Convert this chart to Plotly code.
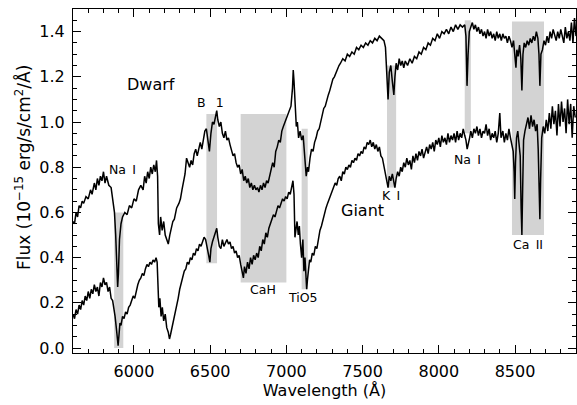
import plotly.graph_objects as go

dwarf_wl = [5600,5610,5620,5630,5640,5650,5660,5670,5685,5700,5715,5725,5740,5750,5760,5770,5780,5790,5800,5810,5820,5835,5850,5862,5872,5880,5888,5893,5898,5905,5915,5925,5940,5955,5970,5985,6000,6015,6030,6045,6060,6070,6080,6090,6100,6110,6120,6130,6140,6148,6155,6160,6168,6175,6185,6195,6205,6215,6225,6235,6245,6255,6265,6280,6295,6305,6315,6325,6335,6345,6355,6365,6375,6385,6395,6405,6415,6425,6435,6445,6455,6465,6475,6485,6495,6505,6515,6525,6535,6543,6550,6560,6570,6580,6590,6600,6610,6620,6630,6640,6650,6660,6670,6680,6690,6700,6710,6720,6730,6740,6750,6760,6770,6780,6790,6800,6810,6820,6830,6840,6850,6860,6870,6880,6890,6900,6910,6920,6930,6940,6950,6960,6970,6980,6990,7000,7010,7020,7030,7040,7045,7050,7058,7065,7072,7080,7090,7100,7110,7120,7130,7138,7145,7155,7165,7175,7185,7195,7205,7215,7225,7235,7245,7255,7265,7275,7285,7295,7305,7315,7325,7335,7345,7355,7370,7385,7400,7415,7430,7445,7460,7475,7490,7505,7520,7535,7550,7565,7580,7595,7610,7625,7640,7650,7660,7667,7675,7685,7695,7705,7712,7720,7730,7740,7750,7760,7770,7780,7795,7810,7825,7840,7855,7870,7885,7900,7915,7930,7945,7960,7975,7990,8005,8020,8035,8050,8065,8080,8095,8110,8125,8140,8155,8170,8178,8185,8192,8200,8210,8220,8230,8240,8250,8260,8270,8280,8290,8300,8310,8320,8330,8340,8350,8360,8370,8380,8390,8400,8410,8420,8430,8440,8450,8460,8470,8480,8490,8500,8506,8512,8520,8530,8538,8545,8552,8560,8570,8580,8590,8600,8610,8620,8630,8640,8650,8657,8663,8670,8680,8690,8700,8710,8720,8730,8740,8750,8760,8770,8780,8790,8800,8810,8820,8830,8840,8850,8860,8870,8880,8890,8900]
dwarf_flux = [0.56,0.55,0.60,0.58,0.63,0.62,0.65,0.64,0.67,0.66,0.70,0.68,0.73,0.70,0.75,0.72,0.76,0.74,0.78,0.73,0.76,0.72,0.71,0.66,0.60,0.50,0.35,0.27,0.33,0.48,0.55,0.58,0.60,0.59,0.63,0.62,0.66,0.65,0.70,0.72,0.70,0.76,0.73,0.78,0.75,0.80,0.77,0.81,0.78,0.83,0.76,0.55,0.50,0.58,0.52,0.56,0.50,0.48,0.46,0.50,0.53,0.56,0.57,0.62,0.64,0.66,0.70,0.73,0.77,0.84,0.82,0.80,0.83,0.81,0.86,0.88,0.85,0.89,0.91,0.88,0.93,0.96,0.97,0.92,0.87,0.95,1.00,0.99,1.02,1.05,1.01,0.98,1.00,0.95,0.93,0.96,0.92,0.93,0.90,0.88,0.85,0.86,0.82,0.80,0.81,0.77,0.79,0.74,0.76,0.73,0.75,0.71,0.73,0.70,0.72,0.70,0.71,0.69,0.72,0.70,0.73,0.71,0.74,0.73,0.76,0.78,0.82,0.80,0.87,0.89,0.92,0.91,0.96,0.98,1.00,1.01,1.03,1.05,1.07,1.15,1.23,1.18,1.05,0.98,1.00,0.93,0.96,0.92,0.94,0.85,0.76,0.80,0.78,0.84,0.88,0.87,0.91,0.93,0.96,0.97,1.00,1.03,1.06,1.07,1.10,1.12,1.14,1.17,1.19,1.20,1.22,1.23,1.25,1.26,1.28,1.27,1.30,1.29,1.31,1.30,1.33,1.32,1.34,1.33,1.35,1.34,1.36,1.35,1.37,1.36,1.38,1.37,1.36,1.33,1.20,1.10,1.22,1.25,1.18,1.12,1.20,1.26,1.23,1.28,1.25,1.27,1.24,1.27,1.25,1.28,1.26,1.29,1.28,1.31,1.30,1.33,1.32,1.35,1.34,1.37,1.36,1.39,1.37,1.40,1.39,1.41,1.39,1.42,1.40,1.43,1.41,1.43,1.42,1.43,1.38,1.16,1.30,1.40,1.42,1.44,1.41,1.43,1.40,1.42,1.39,1.41,1.38,1.40,1.37,1.41,1.38,1.40,1.37,1.39,1.36,1.40,1.37,1.39,1.36,1.39,1.37,1.38,1.35,1.38,1.36,1.33,1.36,1.30,1.24,1.32,1.29,1.34,1.28,1.14,1.30,1.35,1.33,1.36,1.34,1.37,1.35,1.38,1.36,1.40,1.37,1.30,1.16,1.30,1.32,1.36,1.34,1.38,1.35,1.40,1.37,1.41,1.38,1.36,1.40,1.37,1.41,1.38,1.35,1.42,1.37,1.40,1.36,1.44,1.35,1.46,1.38]

giant_wl = [5600,5610,5620,5630,5640,5650,5660,5670,5680,5690,5700,5710,5720,5730,5740,5750,5760,5770,5780,5790,5800,5810,5820,5830,5840,5850,5860,5868,5876,5884,5890,5896,5902,5908,5915,5925,5935,5945,5955,5965,5975,5985,5995,6005,6015,6025,6035,6045,6055,6065,6075,6085,6095,6105,6115,6125,6135,6145,6152,6158,6163,6170,6178,6186,6195,6205,6215,6225,6233,6240,6250,6260,6270,6280,6290,6300,6310,6320,6330,6340,6350,6360,6370,6380,6390,6400,6410,6420,6430,6440,6450,6460,6470,6480,6490,6498,6505,6515,6525,6535,6543,6550,6560,6570,6580,6590,6600,6610,6620,6630,6640,6650,6660,6670,6680,6690,6700,6710,6718,6725,6735,6745,6755,6765,6775,6785,6795,6805,6815,6825,6835,6845,6855,6865,6875,6885,6895,6905,6915,6925,6935,6945,6955,6965,6975,6985,6995,7005,7015,7025,7035,7043,7050,7056,7062,7070,7078,7085,7092,7100,7108,7115,7122,7128,7133,7138,7145,7152,7160,7170,7180,7190,7200,7210,7220,7230,7240,7250,7260,7270,7280,7290,7300,7310,7320,7330,7340,7350,7360,7370,7380,7390,7400,7410,7420,7430,7440,7450,7460,7470,7480,7490,7500,7510,7520,7530,7540,7550,7560,7570,7580,7590,7600,7610,7620,7630,7640,7650,7660,7667,7675,7685,7695,7705,7712,7720,7730,7740,7750,7760,7770,7780,7790,7800,7810,7820,7830,7840,7850,7860,7870,7880,7890,7900,7910,7920,7930,7940,7950,7960,7970,7980,7990,8000,8010,8020,8030,8040,8050,8060,8070,8080,8090,8100,8110,8120,8130,8140,8150,8160,8170,8178,8186,8194,8202,8210,8220,8230,8240,8250,8260,8270,8280,8290,8300,8310,8320,8330,8340,8350,8360,8370,8380,8390,8400,8408,8420,8430,8440,8450,8460,8470,8480,8488,8494,8498,8503,8510,8518,8526,8534,8540,8545,8550,8556,8565,8575,8585,8595,8605,8615,8625,8635,8645,8652,8658,8663,8668,8675,8685,8695,8705,8715,8725,8735,8745,8755,8765,8775,8785,8795,8805,8815,8825,8835,8845,8855,8865,8875,8885,8895]
giant_flux = [0.15,0.13,0.17,0.15,0.19,0.17,0.21,0.19,0.23,0.21,0.25,0.22,0.26,0.24,0.28,0.25,0.27,0.23,0.29,0.27,0.31,0.28,0.29,0.25,0.27,0.22,0.21,0.18,0.14,0.09,0.03,0.01,0.06,0.11,0.10,0.14,0.13,0.16,0.15,0.18,0.19,0.21,0.23,0.22,0.26,0.28,0.30,0.31,0.33,0.32,0.35,0.37,0.36,0.38,0.37,0.39,0.38,0.40,0.38,0.28,0.18,0.22,0.14,0.18,0.12,0.15,0.09,0.07,0.04,0.06,0.09,0.13,0.15,0.19,0.22,0.26,0.29,0.31,0.34,0.35,0.38,0.37,0.40,0.39,0.42,0.41,0.44,0.43,0.46,0.45,0.47,0.49,0.48,0.45,0.41,0.38,0.44,0.47,0.49,0.51,0.53,0.49,0.45,0.44,0.48,0.45,0.47,0.48,0.46,0.47,0.44,0.45,0.42,0.43,0.40,0.41,0.37,0.34,0.31,0.36,0.33,0.38,0.35,0.40,0.37,0.41,0.39,0.42,0.40,0.45,0.43,0.48,0.46,0.51,0.49,0.53,0.55,0.57,0.59,0.58,0.61,0.63,0.62,0.64,0.66,0.65,0.67,0.66,0.69,0.68,0.72,0.74,0.68,0.49,0.52,0.56,0.50,0.54,0.46,0.40,0.48,0.34,0.40,0.30,0.26,0.30,0.36,0.39,0.38,0.42,0.41,0.45,0.44,0.49,0.52,0.54,0.57,0.60,0.62,0.64,0.66,0.68,0.70,0.71,0.73,0.72,0.75,0.76,0.74,0.78,0.77,0.80,0.79,0.81,0.80,0.83,0.82,0.84,0.83,0.86,0.85,0.87,0.86,0.89,0.88,0.91,0.90,0.92,0.89,0.91,0.88,0.90,0.87,0.89,0.85,0.84,0.80,0.77,0.73,0.71,0.76,0.74,0.77,0.73,0.71,0.75,0.78,0.76,0.80,0.78,0.82,0.80,0.84,0.81,0.83,0.79,0.85,0.82,0.86,0.83,0.87,0.85,0.88,0.84,0.87,0.89,0.86,0.90,0.88,0.91,0.87,0.92,0.90,0.93,0.89,0.94,0.91,0.93,0.90,0.95,0.91,0.94,0.92,0.95,0.91,0.96,0.92,0.95,0.93,0.97,0.94,0.92,0.88,0.90,0.93,0.96,0.93,0.97,0.95,0.98,0.94,0.97,0.93,0.96,0.95,0.99,0.94,0.97,0.92,0.95,0.93,0.96,0.91,0.95,1.04,0.93,0.96,0.91,0.95,0.92,0.97,0.93,0.90,0.87,0.78,0.66,0.82,0.93,0.96,0.91,0.85,0.62,0.50,0.70,0.92,0.96,0.99,1.02,0.97,1.03,0.98,1.01,0.96,0.99,0.88,0.70,0.57,0.75,0.93,0.98,0.95,1.01,0.96,1.04,0.97,1.07,0.99,1.05,0.94,1.08,0.98,1.09,1.00,1.06,0.95,1.10,0.99,1.08,0.93,1.07,1.02]

# shaded feature windows (wavelength start/end, flux bottom/top)
band_wl0 = [5870, 6475, 6700, 7100, 7660, 8170, 8480]
band_wl1 = [5930, 6545, 7000, 7140, 7720, 8210, 8690]
band_f0 = [0.0, 0.375, 0.29, 0.26, 0.71, 0.95, 0.50]
band_f1 = [0.60, 1.035, 1.035, 0.97, 1.25, 1.45, 1.445]

label_text = ["Na\u2002I", "B\u2002 1", "CaH", "TiO5", "K\u2002I", "Na\u2002I", "Ca\u2002II"]
label_wl = [5925, 6499, 6848, 7111, 7684, 8188, 8582]
label_f = [0.79, 1.088, 0.261, 0.222, 0.677, 0.832, 0.459]

name_text = ["Dwarf", "Giant"]
name_wl = [6112, 7500]
name_f = [1.168, 0.61]

x_ticks = [6000, 6500, 7000, 7500, 8000, 8500]
y_ticks = [0.0, 0.2, 0.4, 0.6, 0.8, 1.0, 1.2, 1.4]

FONT = "DejaVu Sans"

fig = go.Figure()
for a, b, c, d in zip(band_wl0, band_wl1, band_f0, band_f1):
    fig.add_shape(type="rect", x0=a, x1=b, y0=c, y1=d, xref="x", yref="y",
                  fillcolor="#d3d3d3", line=dict(width=0), layer="below")

fig.add_trace(go.Scatter(x=dwarf_wl, y=dwarf_flux, mode="lines",
                         line=dict(color="black", width=1.5), showlegend=False))
fig.add_trace(go.Scatter(x=giant_wl, y=giant_flux, mode="lines",
                         line=dict(color="black", width=1.5), showlegend=False))

for t, x, y in zip(label_text, label_wl, label_f):
    fig.add_annotation(x=x, y=y, text=t, showarrow=False, xref="x", yref="y",
                       font=dict(family=FONT, size=12.5, color="black"))
for t, x, y in zip(name_text, name_wl, name_f):
    fig.add_annotation(x=x, y=y, text=t, showarrow=False, xref="x", yref="y",
                       font=dict(family=FONT, size=16, color="black"))

# y-axis title as rotated annotation
fig.add_annotation(text="Flux (10<sup>−15</sup> erg/s/cm<sup>2</sup>/Å)", textangle=-90,
                   xref="paper", yref="paper", x=-0.0994, y=0.538, showarrow=False,
                   xanchor="center", yanchor="middle",
                   font=dict(family=FONT, size=17, color="black"))

axis_common = dict(showgrid=False, zeroline=False, showline=True, linecolor="black",
                   linewidth=1, mirror="ticks", ticks="inside", tickcolor="black",
                   automargin=False, ticklabelstandoff=4,
                   tickfont=dict(family=FONT, size=16, color="black"))
fig.update_xaxes(range=[5600, 8900], tickvals=x_ticks, ticklen=8,
                 minor=dict(ticks="inside", dtick=100, ticklen=4, tickcolor="black"),
                 title=dict(text="Wavelength (Å)", font=dict(family=FONT, size=16, color="black"), standoff=2),
                 **axis_common)
fig.update_yaxes(range=[-0.022, 1.50], tickvals=y_ticks, tickformat=".1f", ticklen=8,
                 minor=dict(ticks="inside", dtick=0.05, tick0=0, ticklen=4, tickcolor="black"),
                 **axis_common)
fig.update_layout(width=577, height=405, margin=dict(l=73, r=1, t=9, b=52),
                  plot_bgcolor="white", paper_bgcolor="white")
fig.write_html("out.html", config={"displayModeBar": False},
               post_script="document.body.style.margin='0px';")
